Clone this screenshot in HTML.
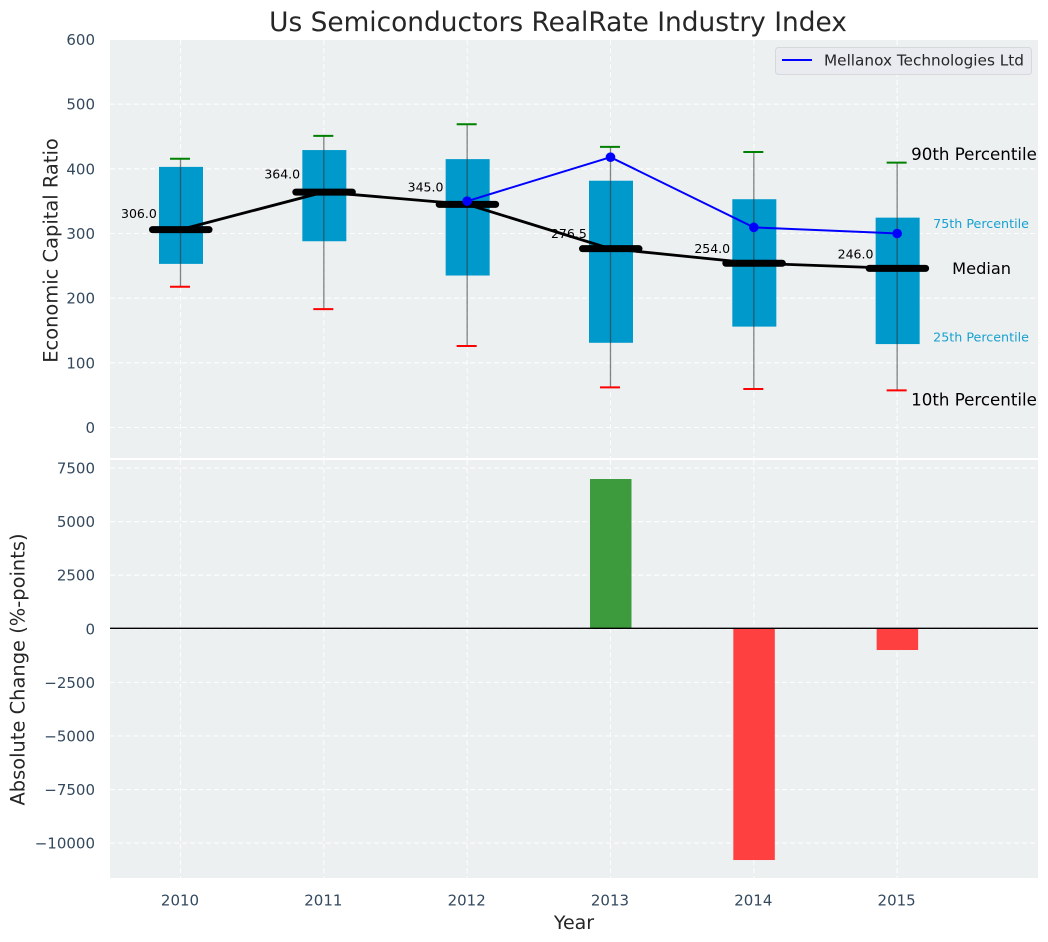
<!DOCTYPE html>
<html>
<head>
<meta charset="utf-8">
<title>Us Semiconductors RealRate Industry Index</title>
<style>
html,body{margin:0;padding:0;background:#fff;}
svg{display:block;font-family:"DejaVu Sans","Liberation Sans",sans-serif;}
</style>
</head>
<body>
<svg id="chart" xmlns="http://www.w3.org/2000/svg" width="1048" height="942" viewBox="0 0 1048 942">
  <text x="558" y="31" text-anchor="middle" font-size="26.4" fill="#262626">Us Semiconductors RealRate Industry Index</text>
  <rect x="110" y="40" width="928" height="418" fill="#ecf0f1"/>
  <rect x="110" y="460" width="928" height="418" fill="#ecf0f1"/>
  <g id="grid"></g>
  <g id="bars"></g>
  <g id="boxes"></g>
  <g id="lines"></g>
  <g id="ticks"></g>
  <g id="annotations"></g>
  <text transform="translate(57.5 250.5) rotate(-90)" text-anchor="middle" font-size="19.44" fill="#262626">Economic Capital Ratio</text>
  <text transform="translate(24.5 669.5) rotate(-90)" text-anchor="middle" font-size="19.44" fill="#262626">Absolute Change (%-points)</text>
  <text x="574" y="929" text-anchor="middle" font-size="19" fill="#262626">Year</text>
  <g>
    <rect x="775.5" y="47.5" width="256" height="27" rx="3" fill="#e9ebf0" stroke="#d6d8dc" stroke-width="1"/>
    <line x1="782" y1="60" x2="812" y2="60" stroke="#0000ff" stroke-width="2"/>
    <text x="824" y="65.5" font-size="15.28" fill="#262626">Mellanox Technologies Ltd</text>
  </g>
</svg>
<script>
const years = [2010, 2011, 2012, 2013, 2014, 2015];
const p10 = [217.7, 183, 126, 62, 59.5, 57.5];
const p25 = [253, 288, 235, 131, 156, 129];
const medians = [306, 364, 345, 276.5, 254, 246];
const p75 = [403, 429, 415, 381.6, 353, 324.5];
const p90 = [415.6, 451, 469, 434, 426, 409.5];
const company = [null, null, 350, 418, 309.5, 300];
const changes = [null, null, null, 6990, -10790, -990];
const topTicks = [0, 100, 200, 300, 400, 500, 600];
const bottomTicks = [-10000, -7500, -5000, -2500, 0, 2500, 5000, 7500];

const NS = 'http://www.w3.org/2000/svg';
const xs = function (year) { return 180.5 + (year - 2010) * 143.33; };
const yTop = function (v) { return 427.5 - v * 0.6467; };
const yBot = function (v) { return 628.8 - v * 0.02143; };

function make(parentId, tag, attrs, text) {
  const n = document.createElementNS(NS, tag);
  Object.keys(attrs).forEach(function (k) { n.setAttribute(k, attrs[k]); });
  if (text !== undefined) n.textContent = text;
  document.getElementById(parentId).appendChild(n);
  return n;
}
const gridStyle = { stroke: '#ffffff', 'stroke-width': 1.1, 'stroke-dasharray': '5 3', opacity: 0.9 };

topTicks.forEach(function (t) {
  const g = make('grid', 'line', Object.assign({ x1: 110, x2: 1038, y1: yTop(t), y2: yTop(t) }, gridStyle));
  
  
  const l = make('ticks', 'text', { x: 95, y: yTop(t) + 5.5, 'text-anchor': 'end', 'font-size': 15, fill: '#34495e' }, String(t));
  
  
});
bottomTicks.forEach(function (t) {
  const g = make('grid', 'line', Object.assign({ x1: 110, x2: 1038, y1: yBot(t), y2: yBot(t) }, gridStyle));
  
  
  const l = make('ticks', 'text', { x: 95, y: yBot(t) + 5.5, 'text-anchor': 'end', 'font-size': 15, fill: '#34495e' }, String(t).replace('-', '\u2212'));
  
  
});
years.forEach(function (yr) {
  const a = make('grid', 'line', Object.assign({ x1: xs(yr), x2: xs(yr), y1: 40, y2: 458 }, gridStyle));
  
  
  const b = make('grid', 'line', Object.assign({ x1: xs(yr), x2: xs(yr), y1: 460, y2: 878 }, gridStyle));
  
  
  const l = make('ticks', 'text', { x: xs(yr) - 0.5, y: 905.5, 'text-anchor': 'middle', 'font-size': 15, fill: '#34495e' }, String(yr));
  
  
});

changes.forEach(function (v, i) {
  if (v === null) return;
  const top = Math.min(yBot(v), yBot(0));
  const h = Math.abs(yBot(v) - yBot(0));
  const bar = make('bars', 'rect', { x: xs(years[i]) - 20.5, y: top, width: 41.5, height: h, fill: v > 0 ? '#3d9b3d' : '#ff4040' });
  
  
});
const zero = make('bars', 'line', { x1: 110, x2: 1038, y1: yBot(0) - 0.5, y2: yBot(0) - 0.5, stroke: '#000000', 'stroke-width': 1.3 });



years.forEach(function (yr, i) {
  const x = xs(yr);
  const box = make('boxes', 'rect', { x: x - 21.5, y: yTop(p75[i]), width: 44, height: yTop(p25[i]) - yTop(p75[i]), fill: '#0099cc' });
  
  
  const w = make('boxes', 'line', { x1: x, x2: x, y1: yTop(p90[i]), y2: yTop(p10[i]), stroke: '#333333', 'stroke-opacity': 0.6, 'stroke-width': 1.3 });
  
  
  const hi = make('boxes', 'line', { x1: x - 10.5, x2: x + 9.5, y1: yTop(p90[i]), y2: yTop(p90[i]), stroke: '#008000', 'stroke-width': 2 });
  
  
  const lo = make('boxes', 'line', { x1: x - 10.5, x2: x + 9.5, y1: yTop(p10[i]), y2: yTop(p10[i]), stroke: '#ff0000', 'stroke-width': 2 });
  
  
});

const medianPts = years.map(function (yr, i) { return xs(yr) + ',' + yTop(medians[i]); }).join(' ');
const medLine = make('lines', 'polyline', { points: medianPts, fill: 'none', stroke: '#000000', 'stroke-width': 2.8 });



years.forEach(function (yr, i) {
  const x = xs(yr);
  const m = make('lines', 'line', { x1: x - 28, x2: x + 28.5, y1: yTop(medians[i]), y2: yTop(medians[i]), stroke: '#000000', 'stroke-width': 7, 'stroke-linecap': 'round' });
  
  
  const t = make('annotations', 'text', { x: x - 23.7, y: yTop(medians[i] * 1.05) - 1.8, 'text-anchor': 'end', 'font-size': 12.5, fill: '#000000' }, medians[i].toFixed(1));
  
  
});

const companyPts = [];
years.forEach(function (yr, i) {
  if (company[i] !== null) companyPts.push(xs(yr) + ',' + yTop(company[i]));
});
const coLine = make('lines', 'polyline', { points: companyPts.join(' '), fill: 'none', stroke: '#0000ff', 'stroke-width': 2 });


years.forEach(function (yr, i) {
  if (company[i] === null) return;
  const c = make('lines', 'circle', { cx: xs(yr), cy: yTop(company[i]), r: 4.8, fill: '#0000ff' });
  
  
});

const last = years.length - 1;
const lastX = xs(years[last]);
const a90 = make('annotations', 'text', { x: lastX + 14, y: yTop(p90[last]) - 2.5, 'font-size': 16.67, fill: '#000000' }, '90th Percentile');


const a75 = make('annotations', 'text', { x: lastX + 36, y: yTop(p75[last]) + 10.5, 'font-size': 12.7, fill: '#0099cc', opacity: 0.9 }, '75th Percentile');


const aMed = make('annotations', 'text', { x: lastX + 55, y: yTop(medians[last]) + 5.5, 'font-size': 16.2, fill: '#000000' }, 'Median');


const a25 = make('annotations', 'text', { x: lastX + 36, y: yTop(p25[last]) - 2.5, 'font-size': 12.7, fill: '#0099cc', opacity: 0.9 }, '25th Percentile');


const a10 = make('annotations', 'text', { x: lastX + 14, y: yTop(p10[last]) + 15, 'font-size': 16.67, fill: '#000000' }, '10th Percentile');


</script>
</body>
</html>
